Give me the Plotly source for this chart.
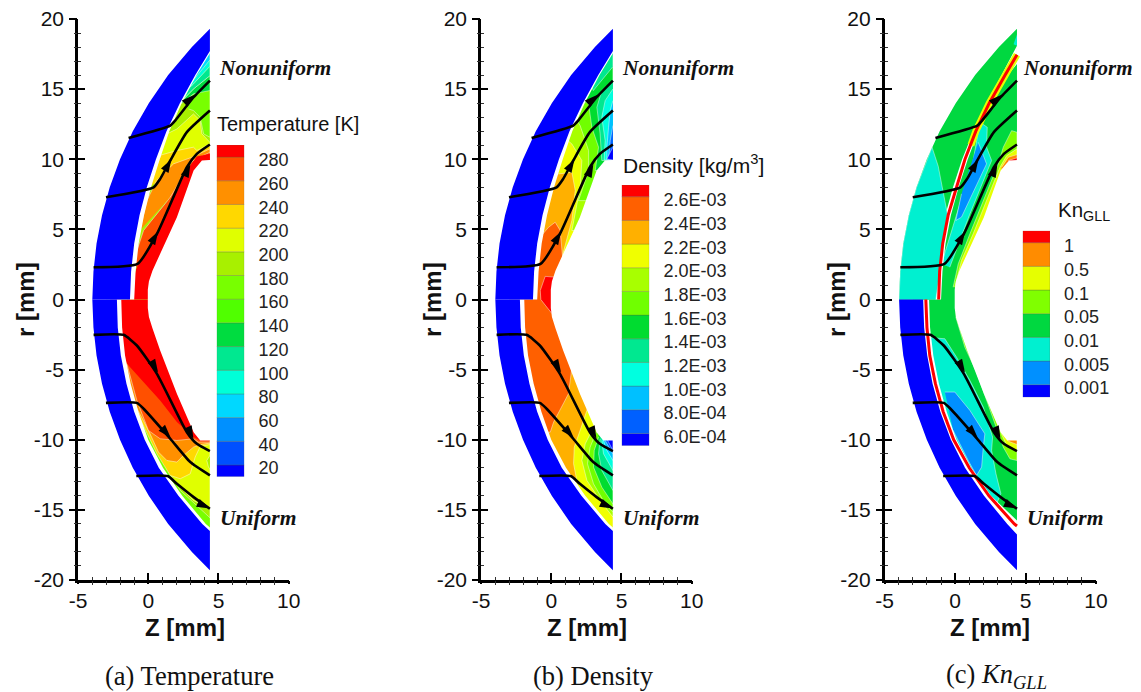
import plotly.graph_objects as go

# ---------- shared geometry (Z, r in mm) ----------
outer_r = [0, 2, 4, 6, 8, 10, 12, 14, 16, 18, 19.3]
outer_z = [-3.98, -3.90, -3.68, -3.29, -2.74, -2.01, -1.10, 0.04, 1.42, 3.11, 4.39]
shock_up_r = [0, 2, 4, 6, 8, 10, 12, 14, 16, 17.72]
shock_up_z = [-1.30, -1.22, -1.00, -0.62, -0.10, 0.55, 1.30, 2.25, 3.35, 4.39]
shock_lo_r = [0, -2, -4, -6, -8, -10, -12, -14, -16, -16.5]
shock_lo_z = [-2.23, -2.17, -1.95, -1.55, -1.00, -0.25, 0.75, 2.15, 3.85, 4.39]
flow_up_r = [0, 2, 4, 6, 8, 10, 12, 14, 16, 17.55]
flow_up_z = [-1.00, -0.90, -0.68, -0.30, 0.20, 0.82, 1.50, 2.38, 3.44, 4.39]
flow_lo_r = [0, -2, -4, -6, -8, -10, -12, -14, -16, -16.25]
flow_lo_z = [-1.92, -1.86, -1.65, -1.25, -0.70, 0.00, 1.05, 2.42, 4.10, 4.39]
body_z = [4.6, 4.39, 3.82, 3.23, 2.04, 0.85, 0.30, 0.05, -0.03, -0.03, 0.05, 0.30, 0.85, 2.04, 3.23, 3.70, 4.39, 4.6]
body_r = [9.96, 9.96, 9.91, 9.20, 5.87, 3.26, 2.05, 1.30, 0.70, -0.60, -1.25, -2.05, -3.64, -6.72, -9.46, -10.05, -10.05, -10.05]

# streamlines
line_a_z = [-1.40, 1.57, 1.92, 3.23, 4.39]
line_a_r = [11.52, 12.40, 12.76, 14.42, 15.61]
line_b_z = [-3.01, 0.38, 0.85, 1.57, 2.75, 4.39]
line_b_r = [7.29, 8.00, 8.60, 9.91, 11.93, 13.47]
line_c_z = [-3.89, -0.76, 0.62, 2.75, 3.46, 4.39]
line_c_r = [2.30, 2.54, 4.68, 9.43, 10.38, 11.05]
line_d_z = [-3.89, -1.76, -0.81, 0.62, 2.75, 3.46, 4.39]
line_d_r = [-2.52, -2.52, -3.28, -5.30, -9.46, -10.29, -10.81]
line_e_z = [-3.01, -0.81, -0.33, 1.57, 2.99, 4.39]
line_e_r = [-7.37, -7.37, -7.79, -9.93, -11.59, -12.54]
line_f_z = [-0.85, 1.38, 2.04, 3.23, 4.39]
line_f_r = [-12.59, -12.59, -13.14, -14.09, -14.92]
arrow_z = [3.30, 1.65, 0.70, 3.00, 0.70, 3.22, 1.60, 4.39]
arrow_r = [14.60, 10.00, 4.85, 9.65, -5.20, -9.95, -9.85, -14.90]
arrow_angle = [48, 30, 30, 25, 150, 155, 138, 115]

# ---------- temperature panel ----------
t_up_base_z = [-2, 4.39, 4.39, -2]
t_up_base_r = [0, 0, 18.5, 18.5]
t_up_160_z = [2.51, 3.22, 4.39, 4.39, 3.94, 3.70, 3.22, 2.87]
t_up_160_r = [14.18, 14.66, 15.01, 11.57, 11.81, 12.99, 13.47, 13.59]
t_up_140_z = [2.0, 3.22, 4.39, 4.39, 3.22, 2.28]
t_up_140_r = [13.7, 15.01, 15.96, 14.9, 14.66, 13.9]
t_up_120_z = [4.39, 4.39, 3.22, 2.2, 2.2, 3.22]
t_up_120_r = [16.63, 15.96, 15.01, 14.0, 14.5, 15.37]
t_up_100_z = [4.39, 4.39, 3.22, 2.4, 2.4, 3.22]
t_up_100_r = [17.08, 16.63, 15.37, 14.6, 15.0, 15.65]
t_up_80_z = [4.39, 4.39, 3.22, 2.7, 2.7, 3.22]
t_up_80_r = [17.6, 17.08, 15.65, 15.1, 15.5, 16.1]
t_up_200_z = [0.3, 1.33, 2.04, 3.22, 3.70, 3.82, 4.39, 4.39, 2.04]
t_up_200_r = [8.5, 11.81, 12.16, 13.23, 12.76, 11.81, 11.21, 10.62, 9.43]
t_up_220_z = [0.0, 0.9, 2.04, 3.22, 3.46, 4.39, 4.39, 2.75, 0.85]
t_up_220_r = [8.0, 10.3, 10.62, 10.86, 10.62, 11.09, 10.38, 9.91, 8.48]
t_up_240_z = [-0.6, -0.1, 0.6, 1.8, 3.11, 4.39, 4.39, 3.22, 1.57]
t_up_240_r = [4.92, 7.05, 8.48, 9.67, 10.14, 10.74, 9.95, 9.67, 7.29]
t_up_260_z = [-1.2, -0.33, 1.57, 2.99, 3.22, 4.39, 4.39, 3.46, 0.62, -0.3]
t_up_260_r = [2.3, 4.92, 7.29, 9.67, 9.91, 10.5, 9.95, 9.19, 4.68, 2.3]
t_up_280_z = [-1.5, -0.85, 0.62, 2.75, 3.46, 4.39, 4.39, 3.5, 1.5, 0.3]
t_up_280_r = [0, 2.2, 4.8, 9.19, 10.2, 10.4, 9.9, 9.0, 3, 0]
t_lo_base_z = [-3, 4.39, 4.39, -3]
t_lo_base_r = [0, 0, -17, -17]
t_lo_180_z = [-2.7, 4.39, 4.39, 2.28, -1.52]
t_lo_180_r = [0, 0, -15.56, -13.61, -6.49]
t_lo_200_z = [-2.7, 4.39, 4.39, 3.22, 2.51, 1.8, -1.52]
t_lo_200_r = [0, 0, -14.92, -14.33, -13.61, -12.9, -6.49]
t_lo_patch_z = [4.39, 4.17, 4.29, 4.39]
t_lo_patch_r = [-11.12, -11.48, -11.95, -12.07]
t_lo_220_z = [-2.7, 4.39, 4.39, 3.7, 3.34, 2.99, 2.28, 1.57, 0.62, -2.7]
t_lo_220_r = [0, 0, -10.34, -10.48, -11.24, -12.43, -12.78, -12.55, -11, -4.11]
t_lo_240_z = [-2.7, 4.39, 4.39, 3.7, 3.22, 2.51, 2.04, 1.33, 0.73, 0.02, -2.7]
t_lo_240_r = [0, 0, -10.24, -10.34, -10.53, -11.12, -11.59, -11.48, -10.88, -9.34, -4.11]
t_lo_260_z = [-2.7, 4.39, 4.39, 3.58, 3.22, 2.04, 0.85, 0.02, -0.81, -1.52]
t_lo_260_r = [0, 0, -10.17, -10.17, -9.93, -10.05, -9.93, -9.34, -7.2, -4.59]
t_lo_280_z = [-2.7, 4.39, 4.39, 3.7, 3.22, 2.04, 0.85, -1.4, -2.7]
t_lo_280_r = [0, 0, -10.05, -10.05, -9.81, -8.74, -7.2, -4.7, -2.92]

# ---------- density panel ----------
d_base_z = [-3, 4.39, 4.39, -3]
d_base_r = [-17, -17, 18.5, 18.5]
d_up_a_z = [0.5, 1.47, 1.71, 1.47, 0.76, 4.39, 4.39, 0.88]
d_up_a_r = [8.95, 9.07, 7.77, 5.63, 3.01, 3.01, 18.5, 18.5]
d_up_b_z = [0.9, 1.47, 2.18, 2.06, 1.47, 4.39, 4.39, 0.9]
d_up_b_r = [11.57, 11.09, 9.91, 8.0, 4.92, 4.92, 18.5, 18.5]
d_up_c_z = [1.7, 2.06, 2.66, 2.66, 1.94, 4.39, 4.39, 1.7]
d_up_c_r = [13, 12.4, 10.62, 9.19, 7.05, 7.05, 18.5, 18.5]
d_up_d_z = [2.3, 2.66, 2.89, 3.37, 3.13, 4.39, 4.39, 2.3]
d_up_d_r = [14.18, 13.94, 12.28, 10.86, 9.19, 9.19, 18.5, 18.5]
d_up_e_z = [4.39, 3.6, 3.25, 3.48, 3.6, 4.39]
d_up_e_r = [15.61, 14.89, 13.71, 11.81, 9.91, 9.91]
d_up_f_z = [4.39, 3.84, 3.6, 3.84, 3.77, 4.39]
d_up_f_r = [15.01, 14.18, 13.0, 11.33, 9.95, 9.91]
d_up_g_z = [4.39, 4.2, 4.08, 3.96, 3.96, 4.39]
d_up_g_r = [14.18, 13.47, 12.28, 10.86, 9.91, 9.91]
d_up_h_z = [4.39, 4.2, 4.08, 4.39]
d_up_h_r = [12.4, 11.33, 9.95, 9.95]
d_up_i_z = [4.39, 3.96, 4.39]
d_up_i_r = [10.86, 10.02, 9.95]
d_up_fringe_z = [4.39, 4.39, 3.0, 2.8]
d_up_fringe_r = [17.6, 16.6, 14.9, 15.3]
d_lo_a_z = [2.77, 2.66, 2.30, 1.64, 1.59, 1.82, 1.82, 4.39, 4.39, 2.77]
d_lo_a_r = [-7.2, -7.56, -8.63, -10.53, -11.71, -12.9, -17, -17, -7.1, -7.1]
d_lo_b_z = [3.13, 2.42, 2.18, 2.54, 3.48, 4.39, 4.39, 3.13]
d_lo_b_r = [-8.86, -10.29, -11.48, -12.9, -14.33, -15.51, -8.5, -8.5]
d_lo_c_z = [3.25, 2.77, 2.58, 3.01, 3.84, 4.39, 4.39, 3.25]
d_lo_c_r = [-9.34, -10.53, -11.71, -13.14, -14.57, -15.16, -9, -9]
d_lo_d_z = [3.37, 3.06, 3.01, 3.60, 4.39, 4.39, 3.37]
d_lo_d_r = [-9.81, -10.76, -11.95, -13.38, -14.57, -9.5, -9.5]
d_lo_e_z = [3.48, 3.37, 3.60, 4.39, 4.39, 3.48]
d_lo_e_r = [-9.93, -11, -12.19, -13.61, -9.5, -9.5]
d_lo_f_z = [3.60, 3.72, 4.39, 4.39, 3.6]
d_lo_f_r = [-10.05, -11.0, -12.19, -9.5, -9.5]
d_lo_g_z = [3.72, 3.96, 4.39, 4.39, 3.72]
d_lo_g_r = [-10.05, -10.76, -11.48, -9.5, -9.5]
d_lo_h_z = [3.84, 4.39, 4.39, 3.84]
d_lo_h_r = [-10.05, -11, -9.5, -9.5]
d_lo_i_z = [3.96, 4.39, 4.39, 3.96]
d_lo_i_r = [-9.93, -10.76, -9.5, -9.5]
d_hot_z = [-2.21, -0.19, 0.28, 0.64, 0.81, 1.59, 1.47, 1.23, 0.17, -0.07, -2.21]
d_hot_r = [2.78, 5.15, 5.51, 4.92, 3.01, -0.05, -4.87, -6.72, -8.74, -9.46, -9.46]
d_top_z = [0.17, -0.43, -0.78, -0.74, -0.43, 0.05, 1.3, 1.3]
d_top_r = [1.6, 1.65, 0.64, 0, -0.4, -1.0, -1.0, 1.6]

# ---------- Kn panel ----------
k_base_z = [-3, 4.39, 4.39, -3]
k_base_r = [-17, -17, 18.5, 18.5]
k_up_cyan_z = [-0.97, 1.28, 1.76, 2.28, 2.23, 2.59, 1.05, -0.14, -0.38]
k_up_cyan_r = [2.54, 9.91, 12.64, 12.28, 10.86, 9.91, 6.1, 3.02, 2.3]
k_up_blue_z = [1.64, 2.23, 0.45, 0.05, 0.45]
k_up_blue_r = [11.21, 9.67, 5.87, 5.63, 7.53]
k_up_lime_z = [-0.14, 0.22, 1.05, 2.0, 3.06, 3.42, 4.01, 4.39, 4.39, 2.94]
k_up_lime_r = [0.88, 2.54, 4.68, 7.05, 9.67, 10.86, 12.04, 11.92, 9.95, 0.88]
k_up_yel_z = [-0.02, 0.45, 1.28, 2.11, 3.18, 3.66, 4.39, 4.39, 2.94]
k_up_yel_r = [0.88, 2.78, 4.68, 6.82, 9.43, 10.26, 10.74, 9.95, 0.88]
k_up_org_z = [3.3, 3.77, 4.39, 4.39, 3.3]
k_up_org_r = [9.43, 10.14, 10.33, 9.9, 8.95]
k_up_red_z = [3.77, 4.39, 4.39, 3.6]
k_up_red_r = [9.9, 10.1, 9.9, 9.5]
k_lo_cyan_z = [-2.04, -0.73, 0.1, 1.05, 2, 2.66, 2.59, 2.9, 3.25, 2.94, 1.05, -2.04]
k_lo_cyan_r = [-2.69, -2.8, -4.11, -5.77, -7.67, -9.81, -10.76, -12.43, -13.85, -14.57, -12.66, -6.49]
k_lo_blue_z = [-0.73, -0.02, 1.05, 2.11, 2, 1.88, 1.52, 0.93, -0.14]
k_lo_blue_r = [-6.6, -6.6, -7.91, -9.58, -10.53, -11.95, -12.55, -11.48, -9.34]
k_lo_lime_z = [0.05, 0.69, 1.52, 2.83, 3.42, 3.89, 4.39, 4.39, 3.42, 0.05]
k_lo_lime_r = [-1.26, -3.4, -5.18, -8.86, -10.53, -11.36, -11.48, -9.93, -6.49, -0.07]
k_lo_yel_z = [1.52, 2.23, 3.18, 3.66, 4.39, 4.39, 3.42]
k_lo_yel_r = [-5.06, -6.96, -9.34, -10.41, -10.88, -9.93, -6.49]
k_lo_org_z = [3.77, 4.39, 4.39, 3.77]
k_lo_org_r = [-10.1, -10.34, -9.93, -9.93]
k_flow_up_r = [0, 2, 4, 6, 8, 10, 12, 14, 16, 16.8]
k_flow_up_z = [-1.0, -0.9, -0.68, -0.3, 0.25, 0.9, 1.65, 2.6, 3.75, 4.39]
k_flow_lo_r = [0, -2, -4, -6, -8, -10, -12, -14, -15.75]
k_flow_lo_z = [-1.85, -1.78, -1.55, -1.15, -0.6, 0.1, 1.15, 2.55, 4.39]
k_shock_up_r = [0, 2, 4, 6, 8, 10, 12, 14, 16, 18.1]
k_shock_up_z = [-1.37, -1.28, -1.07, -0.7, -0.15, 0.5, 1.3, 2.22, 3.3, 4.39]
k_shock_lo_r = [0, -2, -4, -6, -8, -10, -12, -14, -16, -16.75]
k_shock_lo_z = [-2.27, -2.2, -1.98, -1.6, -1.05, -0.3, 0.7, 2.05, 3.7, 4.39]
k_red_up_r = [0, 2, 4, 6, 8, 10, 12, 14, 16, 17.45]
k_red_up_z = [-1.17, -1.1, -0.88, -0.5, 0.1, 0.7, 1.47, 2.42, 3.55, 4.39]
k_yel_up_r = [11, 12, 14, 16, 17.45]
k_yel_up_z = [1.12, 1.47, 2.42, 3.55, 4.39]
k_red_lo_r = [0, -2, -4, -6, -8, -10, -12, -14, -16, -16.15]
k_red_lo_z = [-2.08, -2.0, -1.8, -1.4, -0.85, -0.1, 1.0, 2.4, 4.2, 4.39]
k_outer_cyan_z = [-3.98, -3.90, -3.68, -3.29, -2.74, -2.01, -1.64, -1.2, -0.8, -0.55, -1.0, -1.37]
k_outer_cyan_r = [0, 2, 4, 6, 8, 10, 10.86, 9.5, 7.5, 6.1, 2.5, 0]
k_outer_patch_z = [4.39, 4.15, 4.39]
k_outer_patch_r = [18.9, 18.2, 18.1]

# ---------- axis ticks ----------
x_tick_vals = [-5, 0, 5, 10]
x_tick_text = ["-5", "0", "5", "10"]
y_tick_vals = [-20, -15, -10, -5, 0, 5, 10, 15, 20]
y_tick_text = ["-20", "-15", "-10", "-5", "0", "5", "10", "15", "20"]

# ---------- legends ----------
temp_levels = [280, 260, 240, 220, 200, 180, 160, 140, 120, 100, 80, 60, 40, 20]
temp_edges = [12.6, 22.5, 42.5, 62.5, 82.5, 102.5, 122.5, 142.5, 162.5, 182.5, 202.5, 222.5, 242.5, 262.5, 282.5, 292.7]
temp_colors = ["#0000ff", "#0050ff", "#0090ff", "#00d8ff", "#00ffd8", "#00e890", "#00dc40", "#50ff00",
               "#78ff00", "#a8f000", "#e0ff00", "#ffd800", "#ff9000", "#ff5000", "#ff0000"]
dens_levels = [2.6, 2.4, 2.2, 2.0, 1.8, 1.6, 1.4, 1.2, 1.0, 0.8, 0.6]
dens_labels = ["2.6E-03", "2.4E-03", "2.2E-03", "2.0E-03", "1.8E-03", "1.6E-03", "1.4E-03", "1.2E-03",
               "1.0E-03", "8.0E-04", "6.0E-04"]
dens_edges = [0.524, 0.628, 0.828, 1.028, 1.228, 1.428, 1.628, 1.828, 2.028, 2.228, 2.428, 2.628, 2.727]
dens_colors = ["#0000ff", "#0060ff", "#00c0ff", "#00ffe0", "#00e890", "#00dc30", "#70ff00", "#a8ff00",
               "#f0ff00", "#ffb000", "#ff6000", "#ff0000"]
kn_levels = [6, 5, 4, 3, 2, 1, 0]
kn_labels = ["1", "0.5", "0.1", "0.05", "0.01", "0.005", "0.001"]
kn_edges = [-0.393, 0.14, 1.14, 2.14, 3.14, 4.14, 5.14, 6.14, 6.646]
kn_colors = ["#0000ff", "#0090ff", "#00f0d0", "#00d840", "#80ff00", "#e6ff00", "#ff8c00", "#ff0000"]

PAGE_GAP = 8          # the page's own body margin
W, H = 1141, 692
SANS = "Liberation Sans"
SERIF = "Liberation Serif"
PALE = "rgba(255,255,255,0.55)"
fig = go.Figure()


def fx(px):
    return (px - PAGE_GAP) / W


def fy(py):
    return 1 - (py - PAGE_GAP) / H


def poly(p, z, r, color, outline=True):
    fig.add_trace(go.Scatter(
        x=z, y=r, mode="lines", fill="toself", fillcolor=color,
        line=dict(color=PALE if outline else color, width=0.8 if outline else 0),
        xaxis=f"x{p}", yaxis=f"y{p}", hoverinfo="skip", showlegend=False))


def stroke(p, z, r, color, width, shape="linear"):
    fig.add_trace(go.Scatter(
        x=z, y=r, mode="lines", line=dict(color=color, width=width, shape=shape, smoothing=0.5),
        xaxis=f"x{p}", yaxis=f"y{p}", hoverinfo="skip", showlegend=False))


def masks(p, fu_z, fu_r, fl_z, fl_r):
    poly(p, body_z, body_r, "#ffffff", False)
    poly(p, fu_z + [4.39, -4.6, -4.6], fu_r + [19.8, 19.8, 0], "#ffffff", False)
    poly(p, fl_z + [4.39, -4.6, -4.6], fl_r + [-19.8, -19.8, 0], "#ffffff", False)


def lines_and_arrows(p):
    for z, r in [(line_a_z, line_a_r), (line_b_z, line_b_r), (line_c_z, line_c_r),
                 (line_d_z, line_d_r), (line_e_z, line_e_r), (line_f_z, line_f_r)]:
        stroke(p, z, r, "#000000", 2.6, "spline")
    fig.add_trace(go.Scatter(
        x=arrow_z, y=arrow_r, mode="markers",
        marker=dict(symbol="arrow", size=14, color="#000000", angle=arrow_angle, line=dict(width=0)),
        xaxis=f"x{p}", yaxis=f"y{p}", hoverinfo="skip", showlegend=False))


# panel 1
poly(1, t_lo_base_z, t_lo_base_r, "#78ff00", False)
poly(1, t_lo_180_z, t_lo_180_r, "#a8f000")
poly(1, t_lo_200_z, t_lo_200_r, "#e0ff00")
poly(1, t_lo_patch_z, t_lo_patch_r, "#a8f000")
poly(1, t_lo_220_z, t_lo_220_r, "#ffd800")
poly(1, t_lo_240_z, t_lo_240_r, "#ff9000")
poly(1, t_lo_260_z, t_lo_260_r, "#ff5000")
poly(1, t_lo_280_z, t_lo_280_r, "#ff0000", False)
poly(1, t_up_base_z, t_up_base_r, "#a8f000", False)
poly(1, t_up_160_z, t_up_160_r, "#78ff00")
poly(1, t_up_140_z, t_up_140_r, "#00dc40")
poly(1, t_up_120_z, t_up_120_r, "#00e890")
poly(1, t_up_100_z, t_up_100_r, "#00ffd8")
poly(1, t_up_80_z, t_up_80_r, "#00d8ff")
poly(1, t_up_200_z, t_up_200_r, "#e0ff00")
poly(1, t_up_220_z, t_up_220_r, "#ffd800")
poly(1, t_up_240_z, t_up_240_r, "#ff9000")
poly(1, t_up_260_z, t_up_260_r, "#ff5000")
poly(1, t_up_280_z, t_up_280_r, "#ff0000", False)
masks(1, flow_up_z, flow_up_r, flow_lo_z, flow_lo_r)
poly(1, outer_z + shock_up_z[::-1], outer_r + shock_up_r[::-1], "#0000ff", False)
poly(1, outer_z + shock_lo_z[::-1], [-v for v in outer_r] + shock_lo_r[::-1], "#0000ff", False)
lines_and_arrows(1)

# panel 2
poly(2, d_base_z, d_base_r, "#ffb000", False)
for z, r, c in [(d_up_a_z, d_up_a_r, "#f0ff00"), (d_up_b_z, d_up_b_r, "#a8ff00"), (d_up_c_z, d_up_c_r, "#70ff00"),
                (d_up_d_z, d_up_d_r, "#00dc30"), (d_up_fringe_z, d_up_fringe_r, "#00e890"),
                (d_up_e_z, d_up_e_r, "#00e890"), (d_up_f_z, d_up_f_r, "#00ffe0"),
                (d_up_g_z, d_up_g_r, "#00c0ff"), (d_up_h_z, d_up_h_r, "#0060ff"), (d_up_i_z, d_up_i_r, "#0000ff"),
                (d_lo_a_z, d_lo_a_r, "#f0ff00"), (d_lo_b_z, d_lo_b_r, "#a8ff00"), (d_lo_c_z, d_lo_c_r, "#70ff00"),
                (d_lo_d_z, d_lo_d_r, "#00dc30"), (d_lo_e_z, d_lo_e_r, "#00e890"), (d_lo_f_z, d_lo_f_r, "#00ffe0"),
                (d_lo_g_z, d_lo_g_r, "#00c0ff"), (d_lo_h_z, d_lo_h_r, "#0060ff"), (d_lo_i_z, d_lo_i_r, "#0000ff"),
                (d_hot_z, d_hot_r, "#ff6000"), (d_top_z, d_top_r, "#ff0000")]:
    poly(2, z, r, c)
masks(2, flow_up_z, flow_up_r, flow_lo_z, flow_lo_r)
poly(2, outer_z + shock_up_z[::-1], outer_r + shock_up_r[::-1], "#0000ff", False)
poly(2, outer_z + shock_lo_z[::-1], [-v for v in outer_r] + shock_lo_r[::-1], "#0000ff", False)
lines_and_arrows(2)

# panel 3
poly(3, k_base_z, k_base_r, "#00d840", False)
for z, r, c in [(k_up_lime_z, k_up_lime_r, "#80ff00"), (k_up_yel_z, k_up_yel_r, "#e6ff00"),
                (k_up_org_z, k_up_org_r, "#ff8c00"), (k_up_red_z, k_up_red_r, "#ff0000"),
                (k_up_cyan_z, k_up_cyan_r, "#00f0d0"), (k_up_blue_z, k_up_blue_r, "#0090ff"),
                (k_lo_lime_z, k_lo_lime_r, "#80ff00"), (k_lo_yel_z, k_lo_yel_r, "#e6ff00"),
                (k_lo_org_z, k_lo_org_r, "#ff8c00"),
                (k_lo_cyan_z, k_lo_cyan_r, "#00f0d0"), (k_lo_blue_z, k_lo_blue_r, "#0090ff")]:
    poly(3, z, r, c)
masks(3, k_flow_up_z, k_flow_up_r, k_flow_lo_z, k_flow_lo_r)
poly(3, outer_z + k_shock_up_z[::-1], outer_r + k_shock_up_r[::-1], "#00d840", False)
poly(3, k_outer_cyan_z, k_outer_cyan_r, "#00f0d0")
poly(3, k_outer_patch_z, k_outer_patch_r, "#00f0d0", False)
poly(3, outer_z + k_shock_lo_z[::-1], [-v for v in outer_r] + k_shock_lo_r[::-1], "#0000ff", False)
stroke(3, k_yel_up_z, k_yel_up_r, "#e6ff00", 7)
stroke(3, k_red_up_z, k_red_up_r, "#ff0000", 3)
stroke(3, k_red_lo_z, k_red_lo_r, "#ff0000", 3)
lines_and_arrows(3)

# overlay axes carrying the outer half of the ticks
for i in (1, 2, 3):
    fig.add_trace(go.Scatter(x=[None], y=[None], xaxis=f"x{i+3}", yaxis=f"y{i+3}",
                             hoverinfo="skip", showlegend=False))

# legends
for i, (edges, colors) in enumerate([(temp_edges, temp_colors), (dens_edges, dens_colors), (kn_edges, kn_colors)]):
    fig.add_trace(go.Bar(
        x=[0] * len(colors), y=[edges[j + 1] - edges[j] for j in range(len(colors))], base=edges[:-1], width=1,
        marker=dict(color=colors, line=dict(color="rgba(90,90,60,0.35)", width=0.8)),
        xaxis=f"x{i+7}", yaxis=f"y{i+7}", hoverinfo="skip", showlegend=False))

layout = dict(template="none", width=W, height=H, autosize=False, margin=dict(l=0, r=0, t=0, b=0),
              paper_bgcolor="#ffffff", plot_bgcolor="rgba(0,0,0,0)", barmode="overlay",
              font=dict(family=SANS, color="#111111"), showlegend=False)

x_left = [78, 481, 884.7]
x_right = [288.7, 691.7, 1096]
for i in range(3):
    n = i + 1
    dom_x = [fx(x_left[i]), fx(x_right[i])]
    dom_y = [fy(580), fy(19)]
    s = "" if n == 1 else str(n)
    common = dict(showgrid=False, zeroline=False, showline=True, linecolor="#000000", linewidth=2.6,
                  tickcolor="#000000", tickwidth=2.4, mirror=False, automargin=False)
    minor_in = dict(tickmode="linear", tick0=0, dtick=1, ticks="inside", ticklen=3.5, tickwidth=1.3,
                    tickcolor="#333333", showgrid=False)
    minor_out = dict(tickmode="linear", tick0=0, dtick=1, ticks="outside", ticklen=3.5, tickwidth=1.3,
                     tickcolor="#333333", showgrid=False)
    layout[f"xaxis{s}"] = dict(
        common, domain=dom_x, range=[-5, 10], anchor=f"y{s}", tickmode="array", tickvals=x_tick_vals,
        ticktext=x_tick_text, ticks="inside", ticklen=7, minor=minor_in, ticklabeloverflow="allow",
        tickfont=dict(size=21, family=SANS, color="#111111"))
    layout[f"yaxis{s}"] = dict(
        common, domain=dom_y, range=[-20, 20], anchor=f"x{s}", tickmode="array", tickvals=y_tick_vals,
        ticktext=y_tick_text, ticks="inside", ticklen=7, minor=dict(minor_in), ticklabeloverflow="allow",
        tickfont=dict(size=21, family=SANS, color="#111111"), ticklabelstandoff=7)
    k = i + 4
    layout[f"xaxis{k}"] = dict(common, overlaying=f"x{s}", range=[-5, 10], anchor=f"y{k}", tickmode="linear",
                               dtick=5, tick0=0, ticks="outside", ticklen=3, showticklabels=False,
                               showline=False, minor=minor_out)
    layout[f"yaxis{k}"] = dict(common, overlaying=f"y{s}", range=[-20, 20], anchor=f"x{k}", tickmode="linear",
                               dtick=5, tick0=0, ticks="outside", ticklen=8, showticklabels=False,
                               showline=False, minor=dict(minor_out))

legend_boxes = [(216.7, 244.3, 145, 476.7), (621.7, 649.3, 185, 445.7), (1022.7, 1050, 230.7, 397.3)]
legend_ticks = [(temp_levels, [str(v) for v in temp_levels]), (dens_levels, dens_labels), (kn_levels, kn_labels)]
legend_edges = [temp_edges, dens_edges, kn_edges]
for i in range(3):
    k = i + 7
    x0, x1, y0, y1 = legend_boxes[i]
    layout[f"xaxis{k}"] = dict(domain=[fx(x0), fx(x1)], range=[-0.5, 0.5], visible=False, anchor=f"y{k}",
                               automargin=False)
    layout[f"yaxis{k}"] = dict(domain=[fy(y1), fy(y0)], range=[legend_edges[i][0], legend_edges[i][-1]],
                               anchor=f"x{k}", side="right", showgrid=False, zeroline=False, showline=False,
                               tickmode="array", tickvals=legend_ticks[i][0], ticktext=legend_ticks[i][1],
                               ticks="outside", ticklen=9.5, tickcolor="rgba(0,0,0,0)", automargin=False,
                               tickfont=dict(size=18, family=SANS, color="#222222"))

notes = []
for i in range(3):
    s = "" if i == 0 else str(i + 1)
    for label, rr, zz, shift, size in (("Nonuniform", 16.5, 5.05, -5 if i == 2 else -2, 21 if i == 2 else 21.5),
                                       ("Uniform", -15.6, 5.1, -2, 21.5)):
        notes.append(dict(text=f"<b><i>{label}</i></b>", x=zz, y=rr, xref=f"x{s}", yref=f"y{s}",
                          xanchor="left", yanchor="middle", showarrow=False, xshift=shift,
                          font=dict(size=size, family=SERIF, color="#111111")))
for text, zz, rr, s, size in (("Temperature [K]", 4.9, 12.5, "", 20), ("Density [kg/m<sup>3</sup>]", 5.1, 9.65, "2", 21),
                              ("Kn<sub>GLL</sub>", 7.3, 6.3, "3", 20.5)):
    notes.append(dict(text=text, x=zz, y=rr, xref=f"x{s}", yref=f"y{s}", xanchor="left", yanchor="middle",
                      showarrow=False, xshift=-2, font=dict(size=size, family=SANS, color="#111111")))
for text, px in (("(a) Temperature", 189.5), ("(b) Density", 593.5), ("(c) <i>Kn<sub>GLL</sub></i>", 996)):
    notes.append(dict(text=text, x=fx(px), y=fy(676), xref="paper", yref="paper", xanchor="center",
                      yanchor="middle", showarrow=False, font=dict(size=26.5, family=SERIF, color="#111111")))
for px in (184.5, 587, 990):
    notes.append(dict(text="<b>Z [mm]</b>", x=fx(px), y=fy(627), xref="paper", yref="paper", xanchor="center",
                      yanchor="middle", showarrow=False, font=dict(size=24, family=SANS, color="#111111")))
for px in (25, 432, 836):
    notes.append(dict(text="<b>r [mm]</b>", x=fx(px), y=fy(300), xref="paper", yref="paper", xanchor="center",
                      yanchor="middle", textangle=-90, showarrow=False,
                      font=dict(size=24, family=SANS, color="#111111")))
layout["annotations"] = notes

fig.update_layout(**layout)
fig.write_html("out.html", config=dict(displayModeBar=False))
